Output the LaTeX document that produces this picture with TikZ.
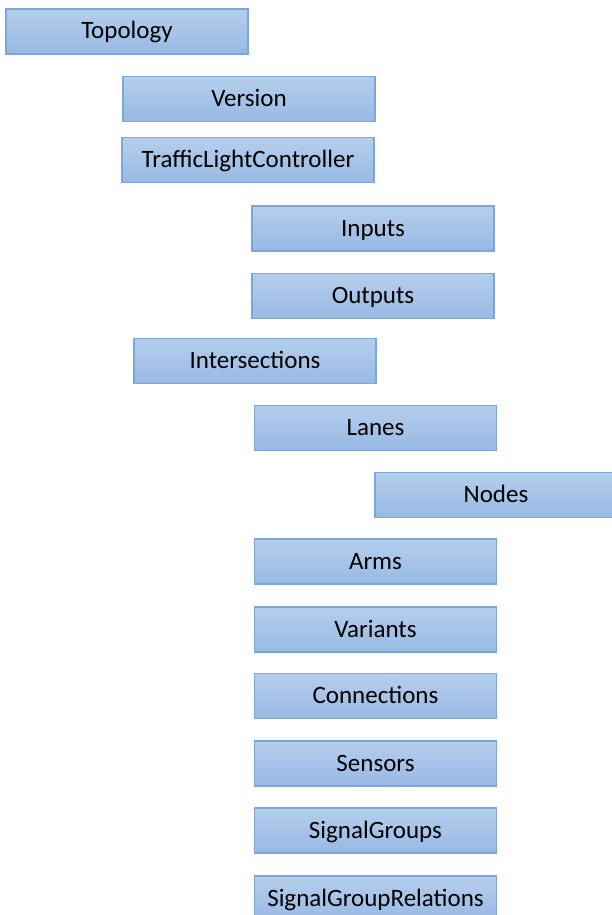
\documentclass[tikz,border=0pt]{standalone}
\usepackage{fontspec}
\setmainfont{Carlito}
\usepackage{tikz}
\definecolor{boxtop}{RGB}{181,206,236}
\definecolor{boxbottom}{RGB}{152,185,228}
\definecolor{boxline}{RGB}{124,165,218}
\tikzset{
  item/.style={rectangle, draw=boxline, line width=1.2pt, top color=boxtop, bottom color=boxbottom,
    minimum width=242pt, minimum height=45pt, inner sep=0pt, text height=18pt, text depth=3pt,
    font=\fontsize{25}{30}\selectfont},
  wide/.style={item, minimum width=252pt}
}

\begin{document}
\begin{tikzpicture}[x=1pt, y=-1pt]
                \clip (0,0) rectangle (612,915);
                \node[item] (topology) at (127,31.5) {Topology};
                \node[wide] (version) at (249,99) {Version};
                \node[wide] (controller) at (248,160) {TrafficLightController};
                \node[item] (inputs) at (373,228.5) {Inputs};
                \node[item] (outputs) at (373,296) {Outputs};
                \node[item] (intersections) at (255,361) {Intersections};
                \node[item] (lanes) at (375.5,428) {Lanes};
                \node[item] (nodes) at (496,495) {Nodes};
                \node[item] (arms) at (375.5,561.5) {Arms};
                \node[item] (variants) at (375.5,629.5) {Variants};
                \node[item] (connections) at (375.5,696) {Connections};
                \node[item] (sensors) at (375.5,763.5) {Sensors};
                \node[item] (signalgroups) at (375.5,830.5) {SignalGroups};
                \node[item] (relations) at (375.5,898.5) {SignalGroupRelations};
            \end{tikzpicture}
\end{document}
